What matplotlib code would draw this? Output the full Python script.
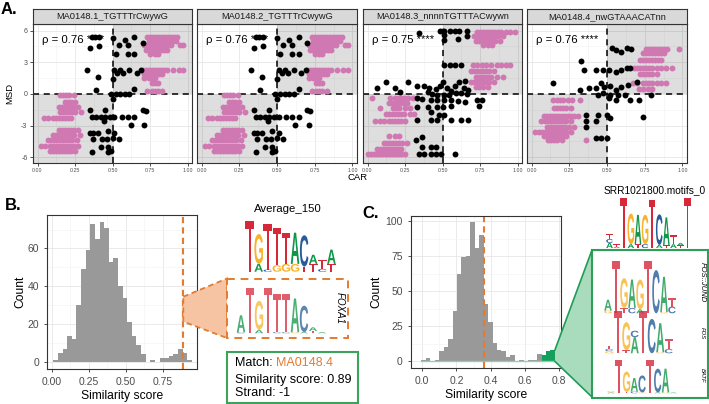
import matplotlib
matplotlib.use('Agg')
from matplotlib import pyplot as plt
from matplotlib.patches import Rectangle, Polygon, PathPatch
from matplotlib.textpath import TextPath
from matplotlib.font_manager import FontProperties
from matplotlib.transforms import Affine2D
from matplotlib.ticker import MultipleLocator
import numpy as np

plt.rcParams['font.family'] = ['Liberation Sans', 'DejaVu Sans']

# ---------------- Panel A data (CAR vs MSD) ----------------
facet_titles = ['MA0148.1_TGTTTrCwywG', 'MA0148.2_TGTTTrCwywG',
                'MA0148.3_nnnnTGTTTACwywn', 'MA0148.4_nwGTAAACATnn']
facet_rho = [0.76, 0.76, 0.75, 0.76]

# pink points as rows: (MSD, [CAR values])
pink_f1 = [
    (5.4, [0.73, 0.75, 0.77, 0.79, 0.81, 0.83, 0.85, 0.87, 0.89, 0.91, 0.93]),
    (5.0, [0.74, 0.76, 0.78, 0.80, 0.82, 0.84, 0.86, 0.88, 0.90, 0.92]),
    (4.6, [0.71, 0.73, 0.75, 0.77, 0.79, 0.81, 0.83, 0.85, 0.87, 0.89, 0.95, 0.97]),
    (4.2, [0.72, 0.74, 0.76, 0.78, 0.80, 0.82, 0.84, 0.86]),
    (3.8, [0.75, 0.78, 0.80]),
    (2.3, [0.70, 0.72, 0.74, 0.76, 0.78, 0.80, 0.82, 0.84, 0.86, 0.90, 0.94, 0.97]),
    (1.9, [0.71, 0.73, 0.75, 0.77, 0.79, 0.81, 0.83]),
    (1.5, [0.71, 0.74, 0.76, 0.78]),
    (1.0, [0.76, 0.78, 0.80]),
    (0.3, [0.73, 0.76, 0.78, 0.80, 0.83]),
    (-0.1, [0.15, 0.17, 0.19, 0.21, 0.24]),
    (-0.8, [0.18, 0.20, 0.22, 0.25]),
    (-1.2, [0.14, 0.16, 0.18, 0.20, 0.22, 0.24, 0.27]),
    (-1.7, [0.15, 0.17, 0.19, 0.21, 0.23, 0.25, 0.29]),
    (-2.3, [0.04, 0.07, 0.10, 0.12, 0.14, 0.16, 0.18, 0.20, 0.22]),
    (-3.4, [0.14, 0.16, 0.18, 0.20, 0.22, 0.24, 0.27]),
    (-3.9, [0.10, 0.12, 0.14, 0.16, 0.18, 0.20, 0.22, 0.24, 0.28]),
    (-4.4, [0.07, 0.09, 0.11, 0.13, 0.15, 0.17, 0.19, 0.21, 0.23, 0.26]),
    (-4.9, [0.02, 0.05, 0.08, 0.10, 0.12, 0.14, 0.16, 0.18, 0.20, 0.22, 0.24, 0.27]),
    (-5.4, [0.08, 0.10, 0.12, 0.14, 0.16, 0.18, 0.20, 0.22, 0.25]),
]
black_f1 = [(0.36, 5.4), (0.38, 5.4), (0.41, 5.4), (0.35, 4.4), (0.41, 4.5), (0.50, 5.3),
            (0.54, 4.6), (0.58, 5.1), (0.60, 4.6), (0.645, 5.4), (0.60, 3.8), (0.645, 3.8),
            (0.52, 3.8), (0.70, 4.8), (0.33, 2.3), (0.51, 2.3), (0.53, 2.0), (0.55, 2.3),
            (0.57, 2.0), (0.61, 2.3), (0.66, 2.0), (0.69, 2.3), (0.40, 1.6), (0.50, 1.4),
            (0.39, 0.35), (0.645, 0.5), (0.49, 0.0), (0.52, 0.0), (0.55, 0.0), (0.58, 0.0),
            (0.61, 0.0), (0.50, -0.5), (0.35, -1.5), (0.45, -1.5), (0.70, -1.5), (0.72, -1.6),
            (0.36, -2.2), (0.39, -2.2), (0.42, -2.2), (0.45, -2.2), (0.48, -2.2), (0.51, -2.2),
            (0.56, -2.2), (0.60, -2.2), (0.645, -2.2), (0.44, -2.6), (0.62, -2.9), (0.71, -2.9),
            (0.35, -3.7), (0.37, -3.7), (0.40, -3.7), (0.47, -3.5), (0.51, -3.7), (0.37, -4.3),
            (0.43, -4.3), (0.46, -4.3), (0.50, -4.2), (0.54, -4.3), (0.42, -5.0), (0.47, -5.0),
            (0.36, -5.5), (0.47, -5.5), (0.49, -5.4)]

pink_f3 = [
    (5.9, [0.73, 0.75, 0.77, 0.79, 0.81, 0.83, 0.85, 0.87, 0.89, 0.92, 0.95, 0.98]),
    (5.5, [0.71, 0.73, 0.75, 0.77, 0.79, 0.81, 0.83, 0.85, 0.87, 0.90]),
    (5.0, [0.72, 0.74, 0.76, 0.78, 0.80, 0.82, 0.85, 0.88]),
    (4.6, [0.77, 0.80, 0.83]),
    (2.7, [0.70, 0.73, 0.76, 0.79, 0.82, 0.86, 0.89, 0.92, 0.95]),
    (2.2, [0.69, 0.71, 0.73, 0.75, 0.77, 0.79, 0.81, 0.84]),
    (1.6, [0.72, 0.74, 0.76, 0.78, 0.80, 0.82, 0.86, 0.90]),
    (1.1, [0.69, 0.71, 0.73, 0.75, 0.77, 0.79, 0.81, 0.84]),
    (0.7, [0.72, 0.74, 0.77, 0.80]),
    (-0.4, [0.03, 0.15, 0.18, 0.20, 0.22, 0.24, 0.27, 0.30, 0.33]),
    (-0.9, [0.14, 0.16, 0.18, 0.20, 0.22, 0.24, 0.26]),
    (-1.3, [0.08, 0.17, 0.19, 0.21, 0.25, 0.28]),
    (-1.9, [0.12, 0.14, 0.16, 0.18, 0.20, 0.22, 0.24, 0.28, 0.31]),
    (-2.6, [0.05, 0.08, 0.11, 0.14, 0.16, 0.18, 0.20, 0.22, 0.25]),
    (-4.0, [0.14, 0.18, 0.21]),
    (-4.6, [0.11, 0.13, 0.15, 0.17, 0.19, 0.21, 0.23, 0.26]),
    (-5.2, [0.06, 0.08, 0.10, 0.12, 0.14, 0.16, 0.18, 0.20, 0.22]),
    (-5.7, [0.00, 0.02, 0.04, 0.06, 0.08, 0.10, 0.12, 0.14, 0.16, 0.18, 0.20, 0.22, 0.25]),
]
black_f3 = [(0.34, 5.8), (0.48, 6.0), (0.51, 6.0), (0.55, 6.0), (0.58, 6.0), (0.61, 6.0),
            (0.66, 6.0), (0.51, 5.1), (0.51, 5.6), (0.60, 5.2), (0.66, 5.5), (0.51, 2.7),
            (0.55, 2.7), (0.58, 2.7), (0.625, 2.7), (0.06, 0.6), (0.125, 1.1), (0.18, 0.6),
            (0.27, 1.1), (0.215, 0.2), (0.33, 0.75), (0.375, 0.75), (0.41, 0.6), (0.455, 0.45),
            (0.48, 0.75), (0.50, 1.1), (0.53, 0.6), (0.557, 0.3), (0.58, 0.75), (0.61, 1.1),
            (0.65, 1.2), (0.64, 0.6), (0.67, 0.4), (0.40, 0.2), (0.43, 0.0), (0.466, -0.1),
            (0.51, -0.1), (0.545, -0.1), (0.59, 0.06), (0.625, 0.06), (0.66, 0.0), (0.33, -0.4),
            (0.364, -0.5), (0.42, -0.57), (0.466, -0.57), (0.51, -0.57), (0.557, -0.57),
            (0.60, -0.63), (0.65, -0.73), (0.727, -0.57), (0.76, -0.57), (0.74, -1.1),
            (0.33, -1.2), (0.40, -1.2), (0.466, -1.2), (0.50, -1.2), (0.557, -1.15), (0.42, -1.7),
            (0.477, -2.0), (0.51, -2.0), (0.33, -2.5), (0.42, -2.5), (0.466, -2.5), (0.557, -2.5),
            (0.625, -2.5), (0.67, -2.5), (0.364, -4.1), (0.32, -4.4), (0.364, -5.0), (0.42, -5.0),
            (0.455, -5.0), (0.34, -5.7), (0.375, -5.7), (0.42, -5.7), (0.455, -5.7), (0.49, -5.7),
            (0.58, -5.7)]

pink_f4 = [
    (4.3, [0.76, 0.78, 0.80, 0.82, 0.84, 0.86, 0.88, 0.90, 0.98]),
    (3.9, [0.74, 0.76, 0.78, 0.80, 0.82, 0.84, 0.86, 0.88]),
    (3.2, [0.72, 0.74, 0.76, 0.78, 0.80, 0.82, 0.84, 0.86]),
    (2.5, [0.68, 0.70, 0.72, 0.74, 0.76, 0.78, 0.80, 0.83, 0.86, 0.89, 0.93]),
    (1.9, [0.72, 0.74, 0.76, 0.78, 0.80, 0.83]),
    (1.0, [0.67, 0.70, 0.74, 0.76, 0.78, 0.80, 0.83, 0.86, 0.89]),
    (0.5, [0.71, 0.74, 0.77, 0.80]),
    (-0.6, [0.14, 0.17, 0.19, 0.21, 0.24, 0.27, 0.32]),
    (-1.3, [0.15, 0.17, 0.19, 0.21, 0.23, 0.26]),
    (-2.1, [0.08, 0.10, 0.12, 0.14, 0.16, 0.18, 0.20, 0.22, 0.24, 0.26, 0.28, 0.31]),
    (-2.6, [0.06, 0.09, 0.11, 0.13, 0.15, 0.17, 0.19, 0.21, 0.23, 0.26]),
    (-3.1, [0.10, 0.12, 0.14, 0.16, 0.18, 0.20, 0.22, 0.25, 0.28]),
    (-3.6, [0.02, 0.05, 0.07, 0.09, 0.11, 0.13, 0.15, 0.17, 0.19, 0.21, 0.23, 0.26]),
    (-4.0, [0.08, 0.10, 0.12, 0.14, 0.16, 0.18, 0.20, 0.23]),
    (-4.4, [0.11, 0.13, 0.15, 0.17, 0.20, 0.36]),
]
black_f4 = [(0.53, 4.35), (0.56, 4.2), (0.59, 4.0), (0.63, 4.35), (0.66, 4.25), (0.33, 3.1),
            (0.35, 2.3), (0.43, 2.3), (0.475, 2.3), (0.51, 2.3), (0.56, 2.1), (0.59, 2.3),
            (0.63, 2.45), (0.65, 2.45), (0.14, 1.0), (0.32, 0.4), (0.38, 0.55), (0.43, 0.55),
            (0.46, 1.0), (0.48, 0.7), (0.52, 0.76), (0.56, 0.4), (0.59, 0.7), (0.64, 0.86),
            (0.70, 1.17), (0.44, -0.1), (0.475, 0.06), (0.52, -0.1), (0.575, -0.1), (0.62, -0.1),
            (0.79, -0.1), (0.51, -0.4), (0.56, -0.57), (0.65, -0.57), (0.71, -0.57), (0.36, -2.0),
            (0.44, -2.0), (0.50, -2.0), (0.36, -2.6), (0.43, -2.6), (0.52, -2.3), (0.74, -2.15),
            (0.36, -3.1), (0.43, -4.2), (0.46, -4.2), (0.50, -4.2)]

facet_pink = [pink_f1, pink_f1, pink_f3, pink_f4]
facet_black = [black_f1, black_f1, black_f3, black_f4]

# ---------------- Panel B / C histograms ----------------
b_bin_start, b_bin_width = 0.011, 0.0312
b_counts = [1, 5, 7, 14, 12, 30, 49, 59, 73, 65, 74, 71, 53, 55, 40, 34, 21, 14, 9, 4,
            0, 1, 0, 2, 2, 3, 4, 7, 5, 1]
b_match_score = 0.89

c_bin_start, c_bin_width = -0.005, 0.026
c_counts = [1, 2, 0, 1, 7, 10, 16, 36, 62, 74, 75, 99, 81, 90, 41, 28, 13, 8, 7, 3,
            4, 0, 1, 0, 1, 1, 5, 4, 7, 8]
c_threshold = 0.36
c_highlight_from = 0.70

# ---------------- Sequence logos (bottom -> top, bits) ----------------
logo_avg150 = [[('T', 1.95)], [('A', 0.3), ('G', 1.15)], [('C', 0.08), ('T', 1.75)],
               [('G', 0.25), ('T', 1.45)], [('G', 0.3), ('T', 1.2)], [('G', 0.3), ('A', 1.2)],
               [('T', 0.2), ('C', 1.2)], [('T', 0.3), ('A', 0.35)], [('C', 0.1), ('T', 0.35)],
               [('T', 0.3), ('A', 0.55)]]
logo_foxa1 = [[('C', 0.05), ('A', 0.7)], [('T', 1.88)], [('A', 0.15), ('G', 1.2)], [('T', 1.88)],
              [('C', 0.05), ('T', 1.6)], [('C', 0.05), ('T', 1.6)], [('G', 0.05), ('A', 1.4)],
              [('A', 0.05), ('C', 1.1)], [('T', 0.1), ('A', 0.15)], [('A', 0.05)]]
logo_srr = [[('A', 0.2), ('C', 0.15), ('T', 0.2)], [('A', 0.05), ('T', 0.1)], [('T', 1.95)],
            [('A', 0.15), ('G', 1.2)], [('T', 0.15), ('A', 1.15)], [('C', 0.15), ('G', 1.15)],
            [('T', 1.9)], [('A', 0.12), ('C', 1.2)], [('T', 0.1), ('A', 1.1)],
            [('A', 0.15), ('T', 0.35)], [('T', 0.1), ('A', 0.1)], [('T', 1.95)]]
logo_fos_jund = [[('G', 0.1), ('A', 0.4)], [('T', 1.95)], [('T', 0.2), ('G', 1.1)],
                 [('C', 0.2), ('A', 1.05)], [('A', 0.15), ('G', 1.1)], [('T', 1.95)], [('C', 1.6)],
                 [('G', 0.05), ('A', 1.3)], [('C', 0.25), ('T', 0.3)]]
logo_fos = [[('G', 0.1), ('C', 0.1), ('T', 0.15)], [('T', 1.95)], [('T', 0.15), ('G', 1.3)],
            [('A', 0.75), ('C', 0.3)], [('T', 1.95)], [('C', 1.6)], [('G', 0.05), ('A', 1.35)],
            [('C', 0.2), ('T', 0.45)]]
logo_batf = [[('A', 0.05), ('G', 0.08)], [('T', 1.95)], [('T', 0.08), ('G', 1.2)],
             [('C', 0.1), ('A', 0.8)], [('G', 0.05), ('C', 1.0)], [('T', 1.95)],
             [('A', 0.05), ('C', 1.4)], [('G', 0.05), ('A', 1.4)], [('A', 0.05)]]

LOGO_COLORS = {'A': '#109648', 'C': '#255C99', 'G': '#F7B32B', 'T': '#D62839'}
PINK = '#cf78b1'
ORANGE = '#e37b30'
GREEN = '#3ea35a'

W, H = 709, 404
fig = plt.figure(figsize=(W / 100, H / 100), dpi=100)


def px_axes(l, t, r, b):
    return fig.add_axes([l / W, 1 - b / H, (r - l) / W, (b - t) / H])


def bw_style(ax):
    for s in ax.spines.values():
        s.set_color('#333333')
        s.set_linewidth(0.8)
    ax.set_axisbelow(True)
    ax.grid(which='major', color='#e6e6e6', lw=0.6)
    ax.grid(which='minor', color='#f2f2f2', lw=0.4)
    ax.tick_params(which='minor', length=0)
    ax.tick_params(which='major', color='#333333', length=2.5, width=0.6, colors='#4d4d4d')


# ---- Panel A ----
lefts = [33, 197, 363, 527]
rights = [192, 357, 522, 687]
xlo, xhi, ylo, yhi = -0.03, 1.03, -6.51, 6.63
for i in range(4):
    ax = px_axes(lefts[i], 24, rights[i], 162.7)
    bw_style(ax)
    ax.set_xlim(xlo, xhi)
    ax.set_ylim(ylo, yhi)
    ax.add_patch(Rectangle((xlo, ylo), 0.5 - xlo, -ylo, fc='#000000', alpha=0.13, lw=0, zorder=1))
    ax.add_patch(Rectangle((0.5, 0), xhi - 0.5, yhi, fc='#000000', alpha=0.13, lw=0, zorder=1))
    ax.axvline(0.5, color='black', ls=(0, (4, 3)), lw=1.1, zorder=2)
    ax.axhline(0, color='black', ls=(0, (4, 3)), lw=1.1, zorder=2)
    ax.text(0.03, 5.1, 'ρ = %.2f ****' % facet_rho[i], fontsize=8.2, va='center', zorder=2)
    px_ = [x for y, xs in facet_pink[i] for x in xs]
    py_ = [y for y, xs in facet_pink[i] for x in xs]
    ax.scatter(px_, py_, s=18, c=PINK, lw=0, zorder=3)
    bx = [p[0] for p in facet_black[i]]
    by = [p[1] for p in facet_black[i]]
    ax.scatter(bx, by, s=18, c='black', lw=0, zorder=4)
    ax.set_xticks([0, 0.25, 0.5, 0.75, 1.0])
    ax.set_xticklabels(['0.00', '0.25', '0.50', '0.75', '1.00'], fontsize=3.8)
    ax.xaxis.set_minor_locator(MultipleLocator(0.125))
    ax.set_yticks([-6, -3, 0, 3, 6])
    ax.yaxis.set_minor_locator(MultipleLocator(1.5))
    ax.tick_params(axis='x', pad=1.5)
    if i == 0:
        ax.set_yticklabels(['-6', '-3', '0', '3', '6'], fontsize=5)
        ax.tick_params(axis='y', pad=1.5)
    else:
        ax.tick_params(axis='y', left=False, labelleft=False)
    st = px_axes(lefts[i], 9, rights[i], 24)
    st.set_facecolor('#d9d9d9')
    st.set_xticks([])
    st.set_yticks([])
    for s in st.spines.values():
        s.set_color('#333333')
        s.set_linewidth(0.8)
    st.text(0.5, 0.5, facet_titles[i], ha='center', va='center', fontsize=6.7,
            color='#1a1a1a', transform=st.transAxes)

# ---- Panel B histogram ----
axb = px_axes(47.3, 215, 196.7, 369)
bw_style(axb)
b_left = b_bin_start + b_bin_width * np.arange(len(b_counts))
axb.bar(b_left, b_counts, width=b_bin_width, align='edge', color='#999999', lw=0)
axb.axvline(b_match_score, color=ORANGE, ls=(0, (3, 2)), lw=1.5)
axb.set_xlim(-0.03, 0.98)
axb.set_ylim(-3.7, 77.7)
axb.set_xticks([0, 0.25, 0.5, 0.75])
axb.set_xticklabels(['0.00', '0.25', '0.50', '0.75'], fontsize=7.5)
axb.set_yticks([0, 20, 40, 60])
axb.set_yticklabels(['0', '20', '40', '60'], fontsize=7.5)
axb.xaxis.set_minor_locator(MultipleLocator(0.125))
axb.yaxis.set_minor_locator(MultipleLocator(10))
axb.set_xlabel('Similarity score', fontsize=8.7, labelpad=2)
axb.set_ylabel('Count', fontsize=8.7, labelpad=1)

# ---- Panel C histogram ----
axc = px_axes(411, 215.5, 561, 368)
bw_style(axc)
c_left = c_bin_start + c_bin_width * np.arange(len(c_counts))
c_cols = ['#12a05c' if x >= c_highlight_from - 0.005 else '#999999' for x in c_left]
axc.bar(c_left, c_counts, width=c_bin_width, align='edge', color=c_cols, lw=0)
axc.plot([c_left[0], c_left[-1] + c_bin_width], [0, 0], color='#8fd1ae', lw=1)
axc.axvline(c_threshold, color=ORANGE, ls=(0, (3, 2)), lw=1.5)
axc.set_xlim(-0.066, 0.811)
axc.set_ylim(-4.95, 103.95)
axc.set_xticks([0, 0.2, 0.4, 0.6, 0.8])
axc.set_xticklabels(['0.0', '0.2', '0.4', '0.6', '0.8'], fontsize=7.5)
axc.set_yticks([0, 25, 50, 75, 100])
axc.set_yticklabels(['0', '25', '50', '75', '100'], fontsize=7.5)
axc.xaxis.set_minor_locator(MultipleLocator(0.1))
axc.yaxis.set_minor_locator(MultipleLocator(12.5))
axc.set_xlabel('Similarity score', fontsize=8.7, labelpad=2)
axc.set_ylabel('Count', fontsize=8.7, labelpad=2)

# ---- overlay in pixel coordinates ----
ov = fig.add_axes([0, 0, 1, 1])
ov.set_xlim(0, W)
ov.set_ylim(H, 0)
ov.axis('off')
ov.patch.set_alpha(0)

FP = FontProperties(family='Liberation Sans', weight='bold')


def draw_logo(stacks, x0, base, col_w, bit_px, alpha=1.0):
    for i, stack in enumerate(stacks):
        y = base
        for ch, bits in stack:
            h = bits * bit_px
            tp = TextPath((0, 0), ch, size=1, prop=FP)
            bb = tp.get_extents()
            tr = (Affine2D().translate(-bb.x0, -bb.y0)
                  .scale(col_w * 0.94 / bb.width, -h / bb.height)
                  .translate(x0 + i * col_w + col_w * 0.03, y))
            ov.add_patch(PathPatch(tr.transform_path(tp), fc=LOGO_COLORS[ch], ec='none',
                                   lw=0, alpha=alpha))
            y -= h


ov.text(1, 9, 'A.', fontsize=12, fontweight='bold', va='center')
ov.text(5, 205, 'B.', fontsize=12, fontweight='bold', va='center')
ov.text(362, 214, 'C.', fontsize=12, fontweight='bold', va='center')
ov.text(10, 93, 'MSD', fontsize=6.8, rotation=90, ha='center', va='center')
ov.text(358, 178, 'CAR', fontsize=6.8, ha='center', va='center')

# panel B annotations
ov.add_patch(Polygon([(183.3, 296.7), (227, 278.5), (227, 338), (183.3, 321.7)],
                     closed=True, fc='#f6c4a2', ec=ORANGE, ls=(0, (3, 2)), lw=1.3))
ov.add_patch(Rectangle((227, 278.5), 121, 59.5, fc='white', ec=ORANGE, ls=(0, (4, 3)), lw=1.4))
ov.text(288, 209, 'Average_150', fontsize=8.2, ha='center', va='center')
draw_logo(logo_avg150, 245, 271.7, 9.1, 26)
draw_logo(logo_foxa1, 236.5, 333.3, 9.0, 24, alpha=0.75)
ov.text(339.5, 308, 'FOXA1', fontsize=7, style='italic', rotation=-90, ha='center', va='center')
ov.add_patch(Rectangle((227, 352), 131, 51, fc='white', ec=GREEN, lw=1.5))
ov.text(235, 363, 'Match: ', fontsize=9, va='center')
ov.text(275.6, 363, 'MA0148.4', fontsize=9, va='center', color=ORANGE)
ov.text(235, 379.5, 'Similarity score: 0.89', fontsize=9, va='center')
ov.text(235, 393, 'Strand: -1', fontsize=9, va='center')

# panel C annotations
ov.add_patch(Polygon([(555, 349.8), (592, 250), (592, 397), (555, 361.5)],
                     closed=True, fc='#a9dcbc', ec='none'))
ov.plot([555, 592], [349.8, 250], color='#1f9d55', lw=1.2)
ov.plot([555, 592], [361.5, 397], color='#1f9d55', lw=1.2)
ov.add_patch(Rectangle((592, 250), 115.5, 147.5, fc='white', ec='#2f9e58', lw=1.5))
ov.text(655, 190, 'SRR1021800.motifs_0', fontsize=7.3, ha='center', va='center')
draw_logo(logo_srr, 606, 248, 7.1, 25.5)
draw_logo(logo_fos_jund, 604, 313.3, 8.0, 27, alpha=0.8)
draw_logo(logo_fos, 605, 353.3, 8.5, 21.5, alpha=0.8)
draw_logo(logo_batf, 607, 393.3, 7.8, 17, alpha=0.8)
ov.text(702, 282, 'FOS::JUND', fontsize=5.5, style='italic', rotation=-90, ha='center', va='center')
ov.text(702, 333, 'FOS', fontsize=4.2, style='italic', rotation=-90, ha='center', va='center')
ov.text(702, 375, 'BATF', fontsize=4.2, style='italic', rotation=-90, ha='center', va='center')

fig.savefig('out.png', dpi=100)
